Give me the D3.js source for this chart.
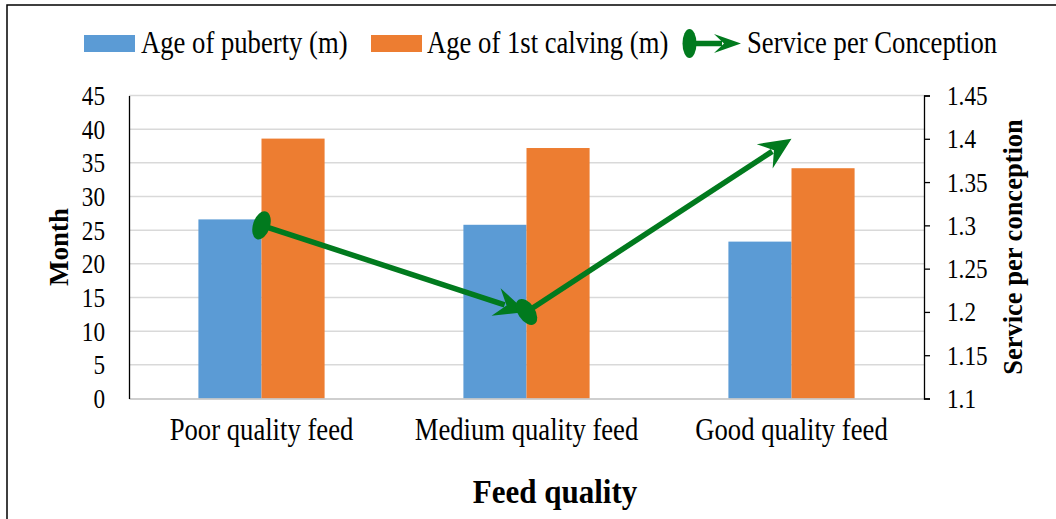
<!DOCTYPE html>
<html>
<head>
<meta charset="utf-8">
<script src="https://cdn.jsdelivr.net/npm/d3@7"></script>
<style>
  html, body { margin: 0; padding: 0; background: #fff; }
  svg { display: block; }
  text { font-family: "Liberation Serif", "Times New Roman", serif; fill: #000; }
</style>
</head>
<body>
<svg id="chart" width="1056" height="519"></svg>
<script>
// Feed quality vs. reproductive traits
const categories = ["Poor quality feed", "Medium quality feed", "Good quality feed"];
const pubertyAge = [26.6, 25.8, 23.3];          // Age of puberty (months)
const firstCalvingAge = [38.6, 37.2, 34.2];     // Age of 1st calving (months)
const servicePerConception = [1.3, 1.2, 1.4];   // Services per conception
const leftTicks = [0, 5, 10, 15, 20, 25, 30, 35, 40, 45];
const rightTicks = [1.1, 1.15, 1.2, 1.25, 1.3, 1.35, 1.4, 1.45];
const seriesNames = ["Age of puberty (m)", "Age of 1st calving (m)", "Service per Conception"];

const colors = { puberty: "#5B9BD5", calving: "#ED7D31", line: "#017A1E", grid: "#D9D9D9" };
const SERIF = '"Liberation Serif", "Times New Roman", serif';
const SX = 0.86;   // horizontal condensing of the regular text

const svg = d3.select("#chart");
const plot = { left: 129, right: 924, top: 95.5, bottom: 398.5 };

// frame lines (top and left)
svg.append("path")
  .attr("d", `M7,519 L7,5 L1056,5`)
  .attr("fill", "none").attr("stroke", "#000").attr("stroke-width", 1.5);

const x = d3.scaleBand().domain(categories).range([plot.left, plot.right]).paddingInner(0).paddingOuter(0);
const xInner = d3.scaleBand().domain(["puberty", "calving"]).range([0, x.bandwidth()])
  .paddingInner(0).paddingOuter(1.1);
const yLeft = d3.scaleLinear().domain([0, 45]).range([plot.bottom, plot.top]);
const yRight = d3.scaleLinear().domain([1.1, 1.45]).range([plot.bottom, plot.top]);

// gridlines
svg.append("g").selectAll("line")
  .data(leftTicks.filter(d => d > 0))
  .join("line")
  .attr("x1", plot.left).attr("x2", plot.right)
  .attr("y1", d => yLeft(d)).attr("y2", d => yLeft(d))
  .attr("stroke", colors.grid).attr("stroke-width", 1.5);

// bars
const rows = categories.map((c, i) => ({ c, puberty: pubertyAge[i], calving: firstCalvingAge[i] }));
const barG = svg.append("g");
["puberty", "calving"].forEach(key => {
  barG.selectAll("rect." + key)
    .data(rows)
    .join("rect")
    .attr("class", key)
    .attr("x", d => x(d.c) + xInner(key))
    .attr("width", xInner.bandwidth())
    .attr("y", d => yLeft(d[key]))
    .attr("height", d => yLeft(0) - yLeft(d[key]))
    .attr("fill", colors[key]);
});

// condensed tick text: position via transform so the x-scale does not move it
function condense(textSel, dx, dy) {
  textSel.attr("x", 0).attr("y", 0).attr("dy", null)
    .attr("transform", `translate(${dx},${dy}) scale(${SX},1)`)
    .style("font-family", SERIF).attr("fill", "#000");
}

// category axis
const xAxis = svg.append("g").attr("transform", `translate(0,${plot.bottom})`)
  .call(d3.axisBottom(x).tickSize(0).tickPadding(0));
xAxis.attr("font-family", null);
xAxis.select(".domain").attr("stroke", "#BFBFBF").attr("stroke-width", 1.5);
xAxis.selectAll("text").attr("font-size", 31).call(condense, 0, 41);

// left value axis
const yAxisL = svg.append("g").attr("transform", `translate(${plot.left},0)`)
  .call(d3.axisLeft(yLeft).tickValues(leftTicks).tickSize(0).tickPadding(24));
yAxisL.attr("font-family", null);
yAxisL.select(".domain").attr("stroke", "#000").attr("stroke-width", 1.3);
yAxisL.selectAll("text").attr("font-size", 27).call(condense, -24, 9);

// right value axis
const yAxisR = svg.append("g").attr("transform", `translate(${plot.right},0)`)
  .call(d3.axisRight(yRight).tickValues(rightTicks).tickSize(6).tickSizeOuter(6).tickPadding(17)
    .tickFormat(d => String(+d.toFixed(2))));
yAxisR.attr("font-family", null);
yAxisR.select(".domain").attr("stroke", "#000").attr("stroke-width", 1.3);
yAxisR.selectAll(".tick line").attr("stroke", "#000").attr("stroke-width", 1.3);
yAxisR.selectAll("text").attr("font-size", 27).call(condense, 23, 9);

// axis titles
svg.append("text")
  .attr("transform", `translate(68,${(plot.top + plot.bottom) / 2}) rotate(-90)`)
  .attr("text-anchor", "middle").attr("font-weight", "bold").attr("font-size", 27)
  .text("Month");
svg.append("text")
  .attr("transform", `translate(1022,${(plot.top + plot.bottom) / 2}) rotate(-90)`)
  .attr("text-anchor", "middle").attr("font-weight", "bold").attr("font-size", 26.5)
  .text("Service per conception");
svg.append("text")
  .attr("transform", `translate(555,503) scale(0.94,1)`)
  .attr("text-anchor", "middle").attr("font-weight", "bold").attr("font-size", 33)
  .text("Feed quality");

// service-per-conception line: each segment starts with an oval and ends with a stealth arrow
const pts = categories.map((c, i) => [x(c) + x.bandwidth() / 2, yRight(servicePerConception[i])]);
const lineG = svg.append("g");

function arrowSegment(g, p0, p1, opt) {
  const ang = Math.atan2(p1[1] - p0[1], p1[0] - p0[0]);
  const deg = ang * 180 / Math.PI;
  const len = Math.hypot(p1[0] - p0[0], p1[1] - p0[1]);
  const ux = Math.cos(ang), uy = Math.sin(ang);
  const endTrim = opt.notch + 2;
  g.append("line")
    .attr("x1", p0[0]).attr("y1", p0[1])
    .attr("x2", p0[0] + ux * (len - endTrim)).attr("y2", p0[1] + uy * (len - endTrim))
    .attr("stroke", colors.line).attr("stroke-width", opt.width);
  g.append("ellipse")
    .attr("transform", `translate(${p0[0]},${p0[1]}) rotate(${deg})`)
    .attr("rx", opt.orx).attr("ry", opt.ory)
    .attr("fill", colors.line);
  g.append("path")
    .attr("transform", `translate(${p1[0]},${p1[1]}) rotate(${deg})`)
    .attr("d", `M0,0 L${-opt.alen},${-opt.ahw} L${-opt.notch},0 L${-opt.alen},${opt.ahw} Z`)
    .attr("fill", colors.line);
}

const segOpt = { width: 5.5, orx: 8.5, ory: 14.5, alen: 32, ahw: 14.5, notch: 21 };
for (let i = 0; i < pts.length - 1; i++) {
  arrowSegment(lineG, pts[i], pts[i + 1], segOpt);
}

// legend
const legend = svg.append("g");
function legendText(x0, y0, s) {
  legend.append("text")
    .attr("transform", `translate(${x0},${y0}) scale(${SX},1)`)
    .attr("font-size", 31).text(s);
}
legend.append("rect").attr("x", 84).attr("y", 35).attr("width", 51).attr("height", 17).attr("fill", colors.puberty);
legendText(141, 53, seriesNames[0]);
legend.append("rect").attr("x", 371).attr("y", 35).attr("width", 51).attr("height", 17).attr("fill", colors.calving);
legendText(427, 53, seriesNames[1]);
arrowSegment(legend, [689.5, 43.5], [741, 43.5], { width: 5.5, orx: 7, ory: 14.5, alen: 27, ahw: 9.5, notch: 17 });
legendText(747, 53, seriesNames[2]);
</script>
</body>
</html>
